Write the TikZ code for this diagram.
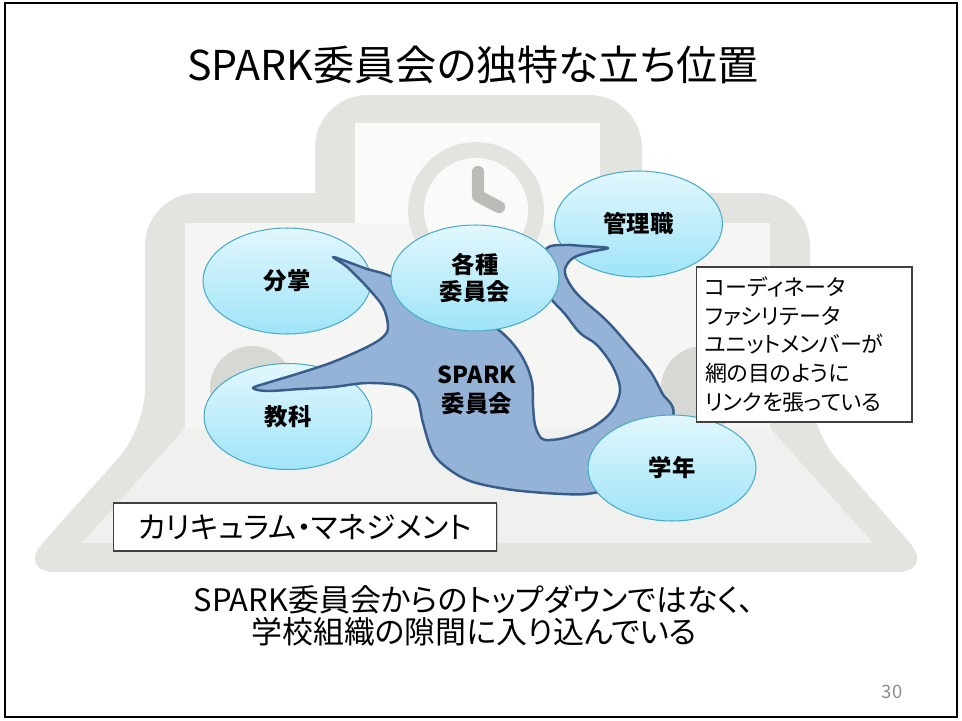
\documentclass[tikz,border=0pt]{standalone}
\usepackage{fontspec}
\setmainfont{Noto Sans CJK JP}[RawFeature=+palt]
\usetikzlibrary{shapes.geometric,shadows}

\definecolor{iconband}{HTML}{E3E3E0}
\definecolor{iconfill}{HTML}{F5F5F3}
\definecolor{iconbase}{HTML}{F0F0EE}
\definecolor{iconwhite}{HTML}{FAFAF9}
\definecolor{icondark}{HTML}{D7D7D4}
\definecolor{clockhand}{HTML}{BBBBB7}
\definecolor{ovaltop}{HTML}{E2F7FD}
\definecolor{ovalbot}{HTML}{9EE4F8}
\definecolor{ovalline}{HTML}{4BACC6}
\definecolor{sparkfill}{HTML}{95B3D7}
\definecolor{sparkline}{HTML}{385D8A}

\tikzset{
  oval/.style={ellipse, draw=ovalline, line width=0.6pt, top color=ovaltop, bottom color=ovalbot,
    minimum width=3.36cm, minimum height=2.12cm, inner sep=0pt, align=center,
    font=\bfseries\fontsize{13.3}{15.9}\selectfont},
  notebox/.style={draw=black!75, fill=white, line width=0.6pt, inner sep=0pt,
    drop shadow={shadow xshift=0.6pt, shadow yshift=-0.6pt, opacity=0.35}},
  sparkblob/.style={fill=sparkfill, draw=sparkline, line width=1.4pt, line join=round}
}

\begin{document}
\begin{tikzpicture}[x=0.02cm, y=-0.02cm]
    \useasboundingbox (0,0) rectangle (962,720);

    % school icon in the background
    \fill[iconband, rounded corners=30] (315,95) rectangle (642,300);
    \fill[iconband, rounded corners=30] (145,193) rectangle (810,470);
    \fill[iconband, rounded corners=22] (145,380) -- (145,428) -- (17,572) -- (935,572) -- (810,428) -- (810,380) -- cycle;
    \fill[iconfill] (185,223) rectangle (770,428);
    \fill[iconwhite] (355,123) rectangle (600,223);
    \fill[iconbase] (185,428) -- (82,543) -- (873,543) -- (770,428) -- cycle;
    \fill[icondark] (252,388) circle[radius=42];
    \fill[icondark] (703,388) circle[radius=42];
    \filldraw[fill=iconwhite, draw=iconband, line width=9pt] (476,210) circle[radius=60];
    \draw[clockhand, line width=7pt, line cap=round, line join=round] (478,172) -- (478,196) -- (499,207);

    % groups that lie under the committee
    \node[oval] (bunsho) at (287,281) {分掌};
    \node[oval] (kyoka) at (288,416.5) {教科};
    \node[oval] (kanri) at (638.5,224) {管理職};

    % SPARK committee
    \draw[sparkblob] plot[smooth cycle, tension=0.55] coordinates {
      (333,257) (348,262) (367,269) (390,276) (440,300) (485,322)
      (500,331) (514,345) (525,362) (532,382) (533,405) (535,425)
      (541,438) (550,440) (568,437) (593,427) (612,411) (620,390)
      (613,367) (597,345) (580,333) (565,314) (550,297) (538,270)
      (547,248) (565,245) (583,246) (608,248) (590,252) (573,258)
      (565,269) (568,281) (580,297) (607,321) (630,347) (650,371)
      (662,393) (673,417) (640,480) (593,493) (563,494) (513,490)
      (473,482) (450,470) (433,453) (423,423) (417,398) (402,386)
      (367,383) (333,387) (300,389) (267,391) (253,388) (267,383)
      (300,373) (333,362) (367,347) (383,337) (388,327) (383,307)
      (367,287) (347,267)};
    \node[align=center, font=\bfseries\fontsize{13.3}{16.4}\selectfont] (spark) at (477,390.5) {SPARK\\委員会};

    \node[oval] (kakushu) at (475,278) {各種\\委員会};
    \node[oval] (gakunen) at (672,468) {学年};

    % boxed notes
    \node[notebox, minimum width=4.32cm, minimum height=3.1cm, text width=3.96cm, inner xsep=0.18cm,
      align=left, font=\fontsize{12.5}{16.4}\selectfont] (link) at (804,344.5)
      {コーディネータ\\ファシリテータ\\ユニットメンバーが\\網の目のように\\リンクを張っている};
    \node[notebox, minimum width=7.68cm, minimum height=0.96cm, font=\fontsize{17}{19}\selectfont]
      (curr) at (305,527) {カリキュラム・マネジメント};

    % title and message
    \node[font=\fontsize{23.4}{28}\selectfont] (title) at (473,65) {SPARK委員会の独特な立ち位置};
    \node[align=center, font=\fontsize{17.6}{18.1}\selectfont] (msg) at (474,616)
      {SPARK委員会からのトップダウンではなく、\\学校組織の隙間に入り込んでいる};
    \node[text=black!45, font=\fontsize{10.5}{12}\selectfont] (page) at (892,692) {30};

    \draw[line width=1.1pt] (5,3) rectangle (957,717);
\end{tikzpicture}
\end{document}
